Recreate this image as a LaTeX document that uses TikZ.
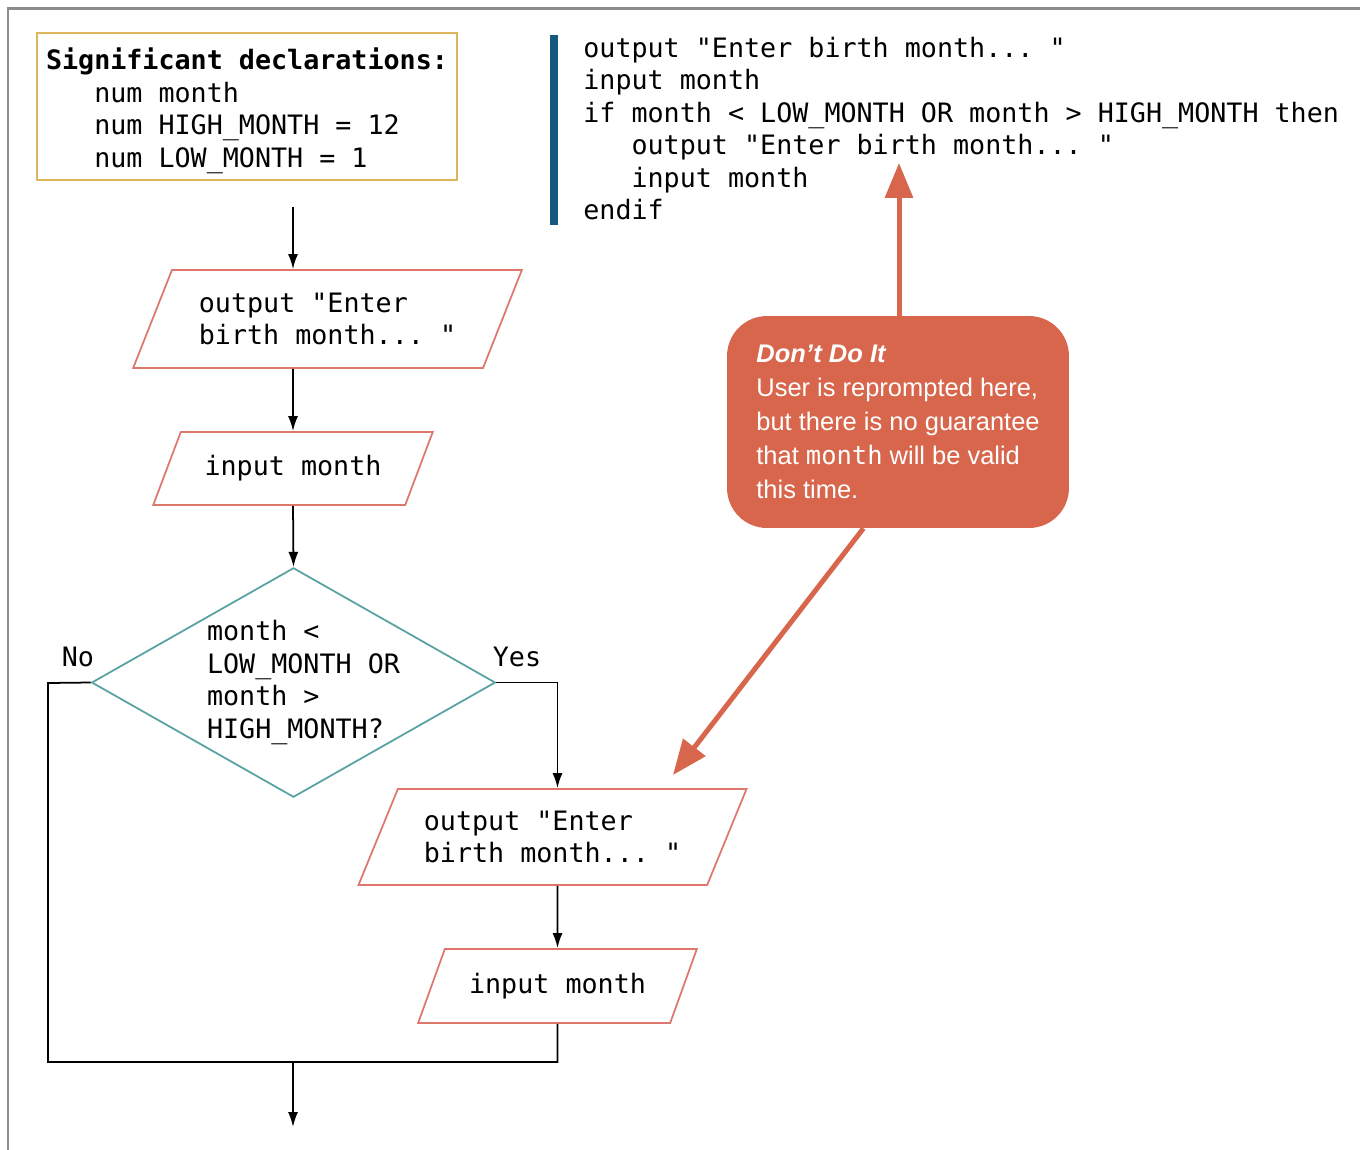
\documentclass[tikz,border=0pt]{standalone}
\usepackage{fontspec}
\setmainfont{Liberation Sans}
\setmonofont{DejaVu Sans Mono}
\usepackage{tikz}
\usetikzlibrary{positioning,shapes.geometric,arrows.meta}
\newcommand{\monofont}{\ttfamily\fontsize{15.2}{18.5}\selectfont}
\newcommand{\ind}{\phantom{000}}
\newcommand{\dind}{\hspace*{0.4cm}}
\definecolor{framegray}{RGB}{140,140,140}
\definecolor{declgold}{RGB}{222,182,92}
\definecolor{codeblue}{RGB}{22,88,128}
\definecolor{iopink}{RGB}{222,120,110}
\definecolor{decteal}{RGB}{88,162,162}
\definecolor{warnred}{RGB}{216,102,76}

\begin{document}
\begin{tikzpicture}[x=0.02cm,y=-0.02cm,
    io/.style={trapezium,trapezium stretches=true,draw=iopink,line width=1pt,
      inner sep=0pt,align=left,font=\monofont},
    decision/.style={diamond,draw=decteal,line width=1pt,inner sep=-0.1cm,
      shape aspect=1.76,align=left,font=\monofont},
    flow/.style={-{Latex[length=0.3cm,width=0.2cm]},line width=1pt},
    warnarrow/.style={-{Triangle[length=0.7cm,width=0.55cm]},line width=0.1cm,warnred}]

    \useasboundingbox[fill=white] (0,0) rectangle (1360,1150);
    \draw[framegray,line width=0.06cm] (8,1150) -- (8,8) -- (1360,8);

    % Declarations
    \node[draw=declgold,line width=1pt,minimum width=8.4cm,minimum height=2.94cm,
      align=left,font=\monofont] (decl) at (247,106.5) {
        \rule{0pt}{17.3pt}\textbf{Significant declarations:}\\
        \ind num month\\
        \ind num HIGH\_MONTH = 12\\
        \ind num LOW\_MONTH = 1};

    % Pseudocode
    \fill[codeblue] (550,35) rectangle (558,225);
    \node[anchor=west,align=left,inner sep=0pt,font=\monofont] (code) at (583,128.5) {
        output "Enter birth month... "\\
        input month\\
        if month < LOW\_MONTH OR month > HIGH\_MONTH then\\
        \ind output "Enter birth month... "\\
        \ind input month\\
        endif};

    % Flowchart
    \coordinate (start) at (293,207);
    \node[io,trapezium left angle=58.5,trapezium right angle=121.5,
      minimum width=7.78cm,minimum height=1.96cm] (out1) at (327.5,319)
        {output "Enter\\birth month... "};
    \node[io,trapezium left angle=50,trapezium right angle=130,
      minimum width=5.6cm,minimum height=1.46cm] (in1) at (293,468.5) {input month};
    \node[decision,minimum width=7.94cm,minimum height=4.5cm] (dec) at (293.5,682.5)
        {\dind month <\\\dind LOW\_MONTH OR\\\dind month >\\\dind HIGH\_MONTH?};
    \node[font=\monofont] (no) at (78,657) {No};
    \node[font=\monofont] (yes) at (517,657) {Yes};
    \node[io,trapezium left angle=58,trapezium right angle=122,
      minimum width=7.78cm,minimum height=1.92cm] (out2) at (552.5,837)
        {output "Enter\\birth month... "};
    \node[io,trapezium left angle=51,trapezium right angle=129,
      minimum width=5.58cm,minimum height=1.48cm] (in2) at (557.5,986) {input month};
    \coordinate (noleft) at (48,683);
    \coordinate (join) at (293,1062);
    \coordinate (finish) at (293,1127);

    \draw[flow] (start) -- (start |- out1.north);
    \draw[flow] (start |- out1.south) -- (in1.north);
    \draw[flow] (in1.south) -- (dec.north);
    \draw[flow] (dec.east) -| (in2 |- out2.north);
    \draw[flow] (in2 |- out2.south) -- (in2.north);
    \draw[line width=1pt] (dec.west) -- (noleft) |- (join) -| (in2.south);
    \draw[flow] (join) -- (finish);

    % Callout
    \node[fill=warnred,rounded corners=0.8cm,minimum width=6.84cm,minimum height=4.24cm,
      align=left,text=white,font=\fontsize{14.5}{19.3}\selectfont] (warn) at (898,422) {
        \textbf{\textit{Don't Do It}}\\
        User is reprompted here,\\
        but there is no guarantee\\
        that {\ttfamily month} will be valid\\
        this time.};
    \coordinate (tipA) at (899,163);
    \coordinate (tipB) at (673,775);
    \draw[warnarrow] (warn.north -| tipA) -- (tipA);
    \draw[warnarrow] (warn.252) -- (tipB);

\end{tikzpicture}
\end{document}
